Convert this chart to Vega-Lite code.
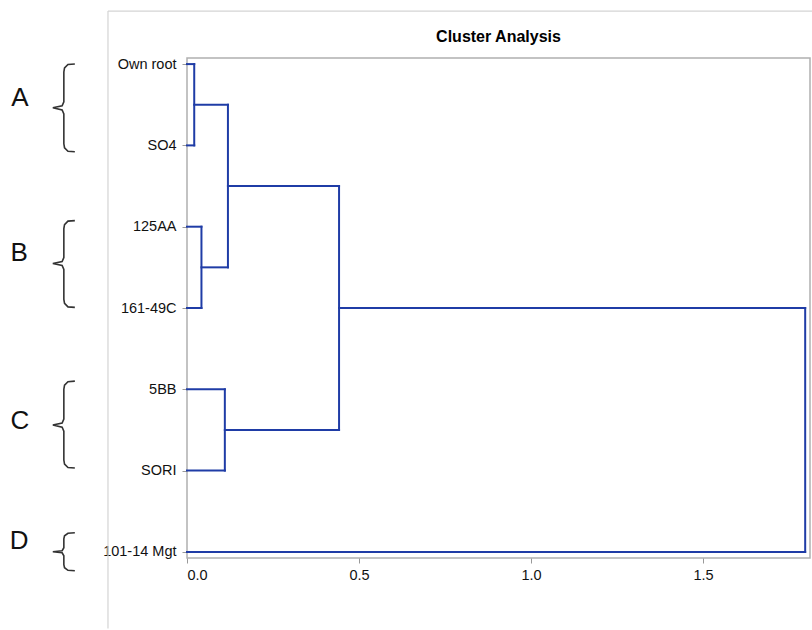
{
  "$schema": "https://vega.github.io/schema/vega-lite/v6.json",
  "autosize": {"type": "none"},
  "padding": {"left": 187, "top": 58, "right": 2, "bottom": 72},
  "width": 623,
  "height": 500,
  "background": "white",
  "title": {"text": "Cluster Analysis", "frame": "group", "font": "Liberation Sans", "fontSize": 16, "fontWeight": "bold", "color": "#000", "anchor": "middle", "offset": -35},
  "config": {
    "view": {"stroke": "#b0b0b0", "strokeWidth": 1.5},
    "axis": {"labelFont": "Liberation Sans", "labelFontSize": 14.5, "labelColor": "#111", "tickColor": "#999", "tickSize": 5, "domain": false, "grid": false, "title": null}
  },
  "datasets": {
    "segments": [
      {"x": 0, "x2": 0.021, "y": 1, "y2": 1},
      {"x": 0, "x2": 0.021, "y": 2, "y2": 2},
      {"x": 0.021, "x2": 0.021, "y": 1, "y2": 2},
      {"x": 0.021, "x2": 0.119, "y": 1.5, "y2": 1.5},
      {"x": 0, "x2": 0.042, "y": 3, "y2": 3},
      {"x": 0, "x2": 0.042, "y": 4, "y2": 4},
      {"x": 0.042, "x2": 0.042, "y": 3, "y2": 4},
      {"x": 0.042, "x2": 0.119, "y": 3.5, "y2": 3.5},
      {"x": 0.119, "x2": 0.119, "y": 1.5, "y2": 3.5},
      {"x": 0.119, "x2": 0.442, "y": 2.5, "y2": 2.5},
      {"x": 0, "x2": 0.11, "y": 5, "y2": 5},
      {"x": 0, "x2": 0.11, "y": 6, "y2": 6},
      {"x": 0.11, "x2": 0.11, "y": 5, "y2": 6},
      {"x": 0.11, "x2": 0.442, "y": 5.5, "y2": 5.5},
      {"x": 0.442, "x2": 0.442, "y": 2.5, "y2": 5.5},
      {"x": 0.442, "x2": 1.797, "y": 4, "y2": 4},
      {"x": 0, "x2": 1.797, "y": 7, "y2": 7},
      {"x": 1.797, "x2": 1.797, "y": 4, "y2": 7}
    ],
    "frame": [
      {"x": -0.2297, "x2": -0.2297, "y": 0.348, "y2": 7.943},
      {"x": -0.2297, "x2": 1.817, "y": 0.348, "y2": 0.348}
    ],
    "braces": [
      {"g": "A", "o": 1, "x": -0.326, "y": 0.999},
      {"g": "A", "o": 2, "x": -0.346, "y": 1.005},
      {"g": "A", "o": 3, "x": -0.356, "y": 1.048},
      {"g": "A", "o": 4, "x": -0.358, "y": 1.097},
      {"g": "A", "o": 5, "x": -0.358, "y": 1.465},
      {"g": "A", "o": 6, "x": -0.363, "y": 1.514},
      {"g": "A", "o": 7, "x": -0.39, "y": 1.538},
      {"g": "A", "o": 8, "x": -0.363, "y": 1.563},
      {"g": "A", "o": 9, "x": -0.358, "y": 1.612},
      {"g": "A", "o": 10, "x": -0.358, "y": 1.98},
      {"g": "A", "o": 11, "x": -0.356, "y": 2.029},
      {"g": "A", "o": 12, "x": -0.346, "y": 2.072},
      {"g": "A", "o": 13, "x": -0.326, "y": 2.078},
      {"g": "B", "o": 1, "x": -0.326, "y": 2.925},
      {"g": "B", "o": 2, "x": -0.346, "y": 2.931},
      {"g": "B", "o": 3, "x": -0.356, "y": 2.974},
      {"g": "B", "o": 4, "x": -0.358, "y": 3.023},
      {"g": "B", "o": 5, "x": -0.358, "y": 3.379},
      {"g": "B", "o": 6, "x": -0.363, "y": 3.428},
      {"g": "B", "o": 7, "x": -0.39, "y": 3.453},
      {"g": "B", "o": 8, "x": -0.363, "y": 3.477},
      {"g": "B", "o": 9, "x": -0.358, "y": 3.526},
      {"g": "B", "o": 10, "x": -0.358, "y": 3.894},
      {"g": "B", "o": 11, "x": -0.356, "y": 3.943},
      {"g": "B", "o": 12, "x": -0.346, "y": 3.986},
      {"g": "B", "o": 13, "x": -0.326, "y": 3.992},
      {"g": "C", "o": 1, "x": -0.326, "y": 4.9},
      {"g": "C", "o": 2, "x": -0.346, "y": 4.906},
      {"g": "C", "o": 3, "x": -0.356, "y": 4.95},
      {"g": "C", "o": 4, "x": -0.358, "y": 4.999},
      {"g": "C", "o": 5, "x": -0.358, "y": 5.367},
      {"g": "C", "o": 6, "x": -0.363, "y": 5.416},
      {"g": "C", "o": 7, "x": -0.39, "y": 5.44},
      {"g": "C", "o": 8, "x": -0.363, "y": 5.465},
      {"g": "C", "o": 9, "x": -0.358, "y": 5.514},
      {"g": "C", "o": 10, "x": -0.358, "y": 5.87},
      {"g": "C", "o": 11, "x": -0.356, "y": 5.919},
      {"g": "C", "o": 12, "x": -0.346, "y": 5.962},
      {"g": "C", "o": 13, "x": -0.326, "y": 5.968},
      {"g": "D", "o": 1, "x": -0.326, "y": 6.765},
      {"g": "D", "o": 2, "x": -0.346, "y": 6.771},
      {"g": "D", "o": 3, "x": -0.356, "y": 6.802},
      {"g": "D", "o": 4, "x": -0.358, "y": 6.839},
      {"g": "D", "o": 5, "x": -0.358, "y": 6.949},
      {"g": "D", "o": 6, "x": -0.363, "y": 6.986},
      {"g": "D", "o": 7, "x": -0.39, "y": 6.999},
      {"g": "D", "o": 8, "x": -0.363, "y": 7.011},
      {"g": "D", "o": 9, "x": -0.358, "y": 7.048},
      {"g": "D", "o": 10, "x": -0.358, "y": 7.158},
      {"g": "D", "o": 11, "x": -0.356, "y": 7.195},
      {"g": "D", "o": 12, "x": -0.346, "y": 7.226},
      {"g": "D", "o": 13, "x": -0.326, "y": 7.232}
    ],
    "letters": [
      {"t": "A", "x": -0.486, "y": 1.416},
      {"t": "B", "x": -0.488, "y": 3.318},
      {"t": "C", "x": -0.486, "y": 5.391},
      {"t": "D", "x": -0.488, "y": 6.864}
    ]
  },
  "layer": [
    {
      "data": {"name": "frame"},
      "mark": {"type": "rule", "color": "#d4d4d4", "strokeWidth": 1.2, "clip": false},
      "encoding": {
        "x": {"field": "x", "type": "quantitative", "scale": {"domain": [0, 1.811], "nice": false, "zero": false},
              "axis": {"values": [0, 0.5, 1, 1.5], "format": ".1f", "labelPadding": 5}},
        "x2": {"field": "x2"},
        "y": {"field": "y", "type": "quantitative", "scale": {"domain": [0.925, 7.075], "nice": false, "zero": false, "reverse": true},
              "axis": {"values": [1, 2, 3, 4, 5, 6, 7], "labelPadding": 6,
                       "labelExpr": "['', 'Own root', 'SO4', '125AA', '161-49C', '5BB', 'SORI', '101-14 Mgt'][datum.value]"}},
        "y2": {"field": "y2"}
      }
    },
    {
      "data": {"name": "segments"},
      "mark": {"type": "rule", "color": "#1f3ca6", "strokeWidth": 2, "strokeCap": "square", "clip": false},
      "encoding": {
        "x": {"field": "x", "type": "quantitative"},
        "x2": {"field": "x2"},
        "y": {"field": "y", "type": "quantitative"},
        "y2": {"field": "y2"}
      }
    },
    {
      "data": {"name": "braces"},
      "mark": {"type": "line", "color": "#333", "strokeWidth": 1.6, "clip": false},
      "encoding": {
        "x": {"field": "x", "type": "quantitative"},
        "y": {"field": "y", "type": "quantitative"},
        "detail": {"field": "g"},
        "order": {"field": "o", "type": "quantitative"}
      }
    },
    {
      "data": {"name": "letters"},
      "mark": {"type": "text", "font": "Liberation Sans", "fontSize": 26, "color": "#111", "align": "center", "baseline": "middle", "clip": false},
      "encoding": {
        "x": {"field": "x", "type": "quantitative"},
        "y": {"field": "y", "type": "quantitative"},
        "text": {"field": "t"}
      }
    }
  ]
}
